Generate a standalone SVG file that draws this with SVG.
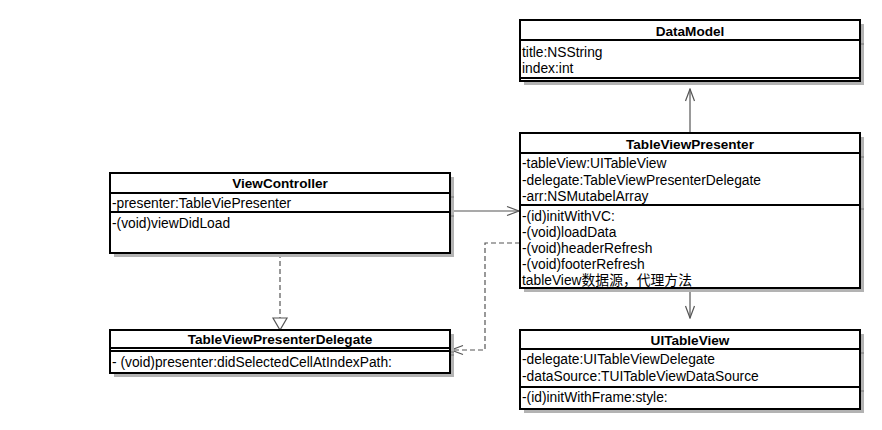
<svg xmlns="http://www.w3.org/2000/svg" width="882" height="430" viewBox="0 0 882 430">
<defs>
<marker id="open" viewBox="0 0 14 12" refX="13" refY="6" markerWidth="14" markerHeight="12" markerUnits="userSpaceOnUse" orient="auto">
<path d="M1,1.5 L13,6 L1,10.5" fill="none" stroke="#555" stroke-width="1.2"/>
</marker>
</defs>
<style>
.sh{fill:#b3b3b3;stroke:none}
.tk{stroke:#8a8a8a;stroke-width:1.5}
.bx{fill:#fff;stroke:#000;stroke-width:2}
.sep{stroke:#000;stroke-width:2}
.hd{font-family:"Liberation Sans","Noto Sans CJK SC",sans-serif;font-size:13.6px;font-weight:bold;text-anchor:middle;fill:#000}
.tx{font-family:"Liberation Sans","Noto Sans CJK SC",sans-serif;font-size:13.8px;fill:#000}
.ln{fill:none;stroke:#555;stroke-width:1.2}
.dash{stroke-dasharray:5 3}
</style>

<g id="connectors">
<path class="ln" d="M690,133 L690,89" marker-end="url(#open)"/>
<path class="ln" d="M690,288 L690,318" marker-end="url(#open)"/>
<path class="ln" d="M450,211 L519,211" marker-end="url(#open)"/>
<path class="ln dash" d="M520,243 L485,243 L485,350 L451,350" marker-end="url(#open)"/>
<path class="ln dash" d="M280,253 L280,318"/>
<path d="M273,318 L287,318 L280,330 Z" fill="#fff" stroke="#555" stroke-width="1.2"/>
</g>

<g id="DataModel">
<rect class="sh" x="524" y="24" width="340" height="61"/>
<line class="tk" x1="860" y1="44" x2="864" y2="44"/>
<rect class="bx" x="520" y="20" width="340" height="61"/>
<line class="sep" x1="520" y1="40" x2="860" y2="40"/>
<line class="sep" x1="520" y1="78" x2="860" y2="78"/>
<text class="hd" x="690" y="36">DataModel</text>
<text class="tx" x="522" y="57">title:NSString</text>
<text class="tx" x="522" y="73">index:int</text>
</g>

<g id="TableViewPresenter">
<rect class="sh" x="524" y="137" width="340" height="155"/>
<line class="tk" x1="860" y1="157" x2="864" y2="157"/>
<line class="tk" x1="860" y1="209" x2="864" y2="209"/>
<rect class="bx" x="520" y="133" width="340" height="155"/>
<line class="sep" x1="520" y1="153" x2="860" y2="153"/>
<line class="sep" x1="520" y1="205" x2="860" y2="205"/>
<text class="hd" x="690" y="149">TableViewPresenter</text>
<text class="tx" x="522" y="168">-tableView:UITableView</text>
<text class="tx" x="522" y="185">-delegate:TableViewPresenterDelegate</text>
<text class="tx" x="522" y="201">-arr:NSMutabelArray</text>
<text class="tx" x="522" y="221">-(id)initWithVC:</text>
<text class="tx" x="522" y="237">-(void)loadData</text>
<text class="tx" x="522" y="253">-(void)headerRefresh</text>
<text class="tx" x="522" y="269">-(void)footerRefresh</text>
<text class="tx" x="522" y="285">tableView数据源，代理方法</text>
</g>

<g id="ViewController">
<rect class="sh" x="114" y="177" width="340" height="80"/>
<line class="tk" x1="450" y1="197" x2="454" y2="197"/>
<line class="tk" x1="450" y1="216" x2="454" y2="216"/>
<rect class="bx" x="110" y="173" width="340" height="80"/>
<line class="sep" x1="110" y1="193" x2="450" y2="193"/>
<line class="sep" x1="110" y1="212" x2="450" y2="212"/>
<text class="hd" x="280" y="188">ViewController</text>
<text class="tx" x="112" y="208">-presenter:TableViePresenter</text>
<text class="tx" x="112" y="228">-(void)viewDidLoad</text>
</g>

<g id="TableViewPresenterDelegate">
<rect class="sh" x="114" y="334" width="340" height="43"/>
<line class="tk" x1="450" y1="352" x2="454" y2="352"/>
<line class="tk" x1="450" y1="355" x2="454" y2="355"/>
<rect class="bx" x="110" y="330" width="340" height="43"/>
<line class="sep" x1="110" y1="348" x2="450" y2="348"/>
<line class="sep" x1="110" y1="351" x2="450" y2="351"/>
<text class="hd" x="280" y="344">TableViewPresenterDelegate</text>
<text class="tx" x="112" y="367">- (void)presenter:didSelectedCellAtIndexPath:</text>
</g>

<g id="UITableView">
<rect class="sh" x="524" y="334" width="340" height="79"/>
<line class="tk" x1="860" y1="353" x2="864" y2="353"/>
<line class="tk" x1="860" y1="391" x2="864" y2="391"/>
<rect class="bx" x="520" y="330" width="340" height="79"/>
<line class="sep" x1="520" y1="349" x2="860" y2="349"/>
<line class="sep" x1="520" y1="387" x2="860" y2="387"/>
<text class="hd" x="690" y="345">UITableView</text>
<text class="tx" x="522" y="364">-delegate:UITableViewDelegate</text>
<text class="tx" x="522" y="381">-dataSource:TUITableViewDataSource</text>
<text class="tx" x="522" y="402">-(id)initWithFrame:style:</text>
</g>
</svg>
